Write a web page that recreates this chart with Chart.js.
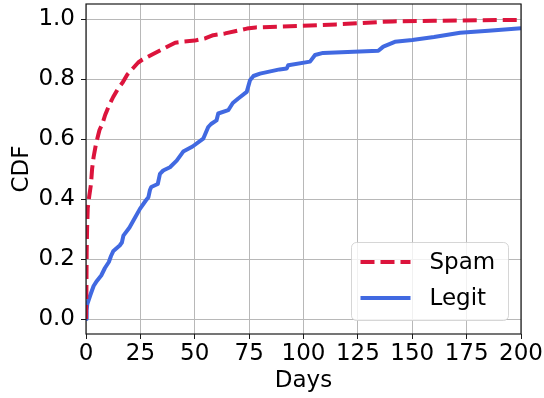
<!DOCTYPE html>
<html>
<head>
<meta charset="utf-8">
<script src="https://cdn.jsdelivr.net/npm/chart.js@4/dist/chart.umd.min.js"></script>
<style>
  html, body { margin: 0; padding: 0; background: #ffffff; }
  canvas { display: block; }
</style>
</head>
<body>
<canvas id="cdf" width="544" height="398"></canvas>
<script>
// Time (days) until a message's first report, empirical CDF per class
const spamDays = [0, 0.2, 0.3, 0.5, 0.8, 1.5, 2.3, 2.8, 3.5, 4.5, 5.5, 6.2, 7.5, 8.8, 10.5, 12.5, 14.5, 17, 19, 21.5, 24, 26, 30, 34, 38, 41, 45, 50, 55, 58.5, 64, 69, 74, 78, 90, 103, 115, 126, 135, 141, 160, 180, 200];
const spamCdf  = [0, 0.10, 0.22, 0.30, 0.37, 0.41, 0.45, 0.50, 0.54, 0.58, 0.61, 0.63, 0.65, 0.68, 0.71, 0.74, 0.765, 0.79, 0.815, 0.835, 0.855, 0.865, 0.88, 0.895, 0.91, 0.921, 0.925, 0.928, 0.936, 0.946, 0.952, 0.96, 0.968, 0.972, 0.975, 0.978, 0.982, 0.986, 0.99, 0.992, 0.994, 0.996, 0.997];

const legitDays = [0, 0.3, 0.6, 2, 3.5, 5, 7, 8.7, 10.5, 11.5, 12.6, 15.5, 16.5, 17.2, 20, 21.8, 24.8, 27.5, 28.7, 29.4, 30, 33, 34, 35.5, 38.6, 41.7, 44.7, 49, 53.9, 56.2, 57.5, 60, 60.8, 65.4, 67.5, 70, 73.9, 75.4, 77, 80, 89, 92.3, 93, 103, 105.3, 109, 134.4, 136.7, 142, 150, 160, 172, 185, 200];
const legitCdf  = [0, 0.03, 0.05, 0.08, 0.11, 0.127, 0.145, 0.17, 0.19, 0.21, 0.227, 0.245, 0.255, 0.278, 0.305, 0.328, 0.367, 0.395, 0.406, 0.43, 0.44, 0.45, 0.484, 0.495, 0.506, 0.528, 0.558, 0.575, 0.601, 0.64, 0.65, 0.662, 0.685, 0.696, 0.72, 0.735, 0.757, 0.796, 0.81, 0.818, 0.832, 0.835, 0.846, 0.858, 0.88, 0.887, 0.894, 0.908, 0.924, 0.93, 0.94, 0.954, 0.961, 0.969];

const xTicks = [0, 25, 50, 75, 100, 125, 150, 175, 200];
const yTicks = [0.0, 0.2, 0.4, 0.6, 0.8, 1.0];

const FONT = 'DejaVu Sans';
const GRID = '#b8b8b8';

const toPoints = (xs, ys) => xs.map((x, i) => ({ x: x, y: ys[i] }));

// Box around the plotting area (all four spines)
const frame = {
  id: 'frame',
  afterDatasetsDraw(chart) {
    const { ctx, chartArea: a } = chart;
    ctx.save();
    ctx.strokeStyle = '#1a1a1a';
    ctx.lineWidth = 1.2;
    ctx.strokeRect(a.left, a.top, a.right - a.left, a.bottom - a.top);
    ctx.restore();
  }
};

// Legend box in the lower right corner of the plotting area
const cornerLegend = {
  id: 'cornerLegend',
  afterDraw(chart) {
    const { ctx, chartArea: a } = chart;
    const w = 157, h = 78;
    const x1 = a.right - 12.5, y1 = a.bottom - 13.5;
    const x0 = x1 - w, y0 = y1 - h;
    ctx.save();
    ctx.beginPath();
    ctx.roundRect(x0, y0, w, h, 5);
    ctx.fillStyle = 'rgba(255,255,255,0.8)';
    ctx.fill();
    ctx.strokeStyle = 'rgba(204,204,204,0.8)';
    ctx.lineWidth = 1;
    ctx.stroke();
    chart.data.datasets.forEach((ds, i) => {
      const y = y0 + 19.5 + i * 36;
      ctx.beginPath();
      ctx.setLineDash(ds.borderDash || []);
      ctx.lineCap = 'butt';
      ctx.strokeStyle = ds.borderColor;
      ctx.lineWidth = ds.borderWidth;
      ctx.moveTo(x0 + 9, y);
      ctx.lineTo(x0 + 59, y);
      ctx.stroke();
      ctx.setLineDash([]);
      ctx.fillStyle = '#000';
      ctx.font = '23px "' + FONT + '"';
      ctx.textBaseline = 'middle';
      ctx.textAlign = 'left';
      ctx.fillText(ds.label, x0 + 78, y + 1);
    });
    ctx.restore();
  }
};

new Chart(document.getElementById('cdf'), {
  type: 'line',
  data: {
    datasets: [
      {
        label: 'Spam',
        data: toPoints(spamDays, spamCdf),
        borderColor: '#DC143C',
        borderWidth: 4,
        borderDash: [14, 6],
        borderJoinStyle: 'round',
        pointRadius: 0,
        tension: 0,
        fill: false
      },
      {
        label: 'Legit',
        data: toPoints(legitDays, legitCdf),
        borderColor: '#4169E1',
        borderWidth: 4,
        borderJoinStyle: 'round',
        borderCapStyle: 'butt',
        pointRadius: 0,
        tension: 0,
        fill: false
      }
    ]
  },
  options: {
    responsive: false,
    animation: false,
    devicePixelRatio: 1,
    layout: { padding: { top: 4, right: 23, bottom: 0, left: 0 } },
    plugins: {
      legend: { display: false },
      tooltip: { enabled: false }
    },
    scales: {
      x: {
        type: 'linear',
        min: 0,
        max: 200,
        afterBuildTicks(s) { s.ticks = xTicks.map(v => ({ value: v })); },
        afterFit(s) { s.height = 64; s.paddingLeft = 0; s.paddingRight = 0; },
        grid: { color: GRID, lineWidth: 1, tickLength: 5, tickColor: '#1a1a1a', drawTicks: true },
        border: { display: false },
        ticks: {
          font: { family: FONT, size: 23 },
          color: '#000',
          padding: 1,
          maxRotation: 0,
          autoSkip: false,
          callback: v => String(v)
        },
        title: {
          display: true,
          text: 'Days',
          font: { family: FONT, size: 23 },
          color: '#000',
          padding: { top: 0, bottom: 3 }
        }
      },
      y: {
        type: 'linear',
        min: -0.05,
        max: 1.05,
        afterBuildTicks(s) { s.ticks = yTicks.map(v => ({ value: v })); },
        afterFit(s) { s.width = 86; s.paddingTop = 0; s.paddingBottom = 0; },
        grid: { color: GRID, lineWidth: 1, tickLength: 5, tickColor: '#1a1a1a', drawTicks: true },
        border: { display: false },
        ticks: {
          font: { family: FONT, size: 23 },
          color: '#000',
          padding: 6,
          autoSkip: false,
          callback: v => Number(v).toFixed(1)
        },
        title: {
          display: true,
          text: 'CDF',
          font: { family: FONT, size: 23 },
          color: '#000',
          padding: { top: 8, bottom: 0 }
        }
      }
    }
  },
  plugins: [frame, cornerLegend]
});
</script>
</body>
</html>
